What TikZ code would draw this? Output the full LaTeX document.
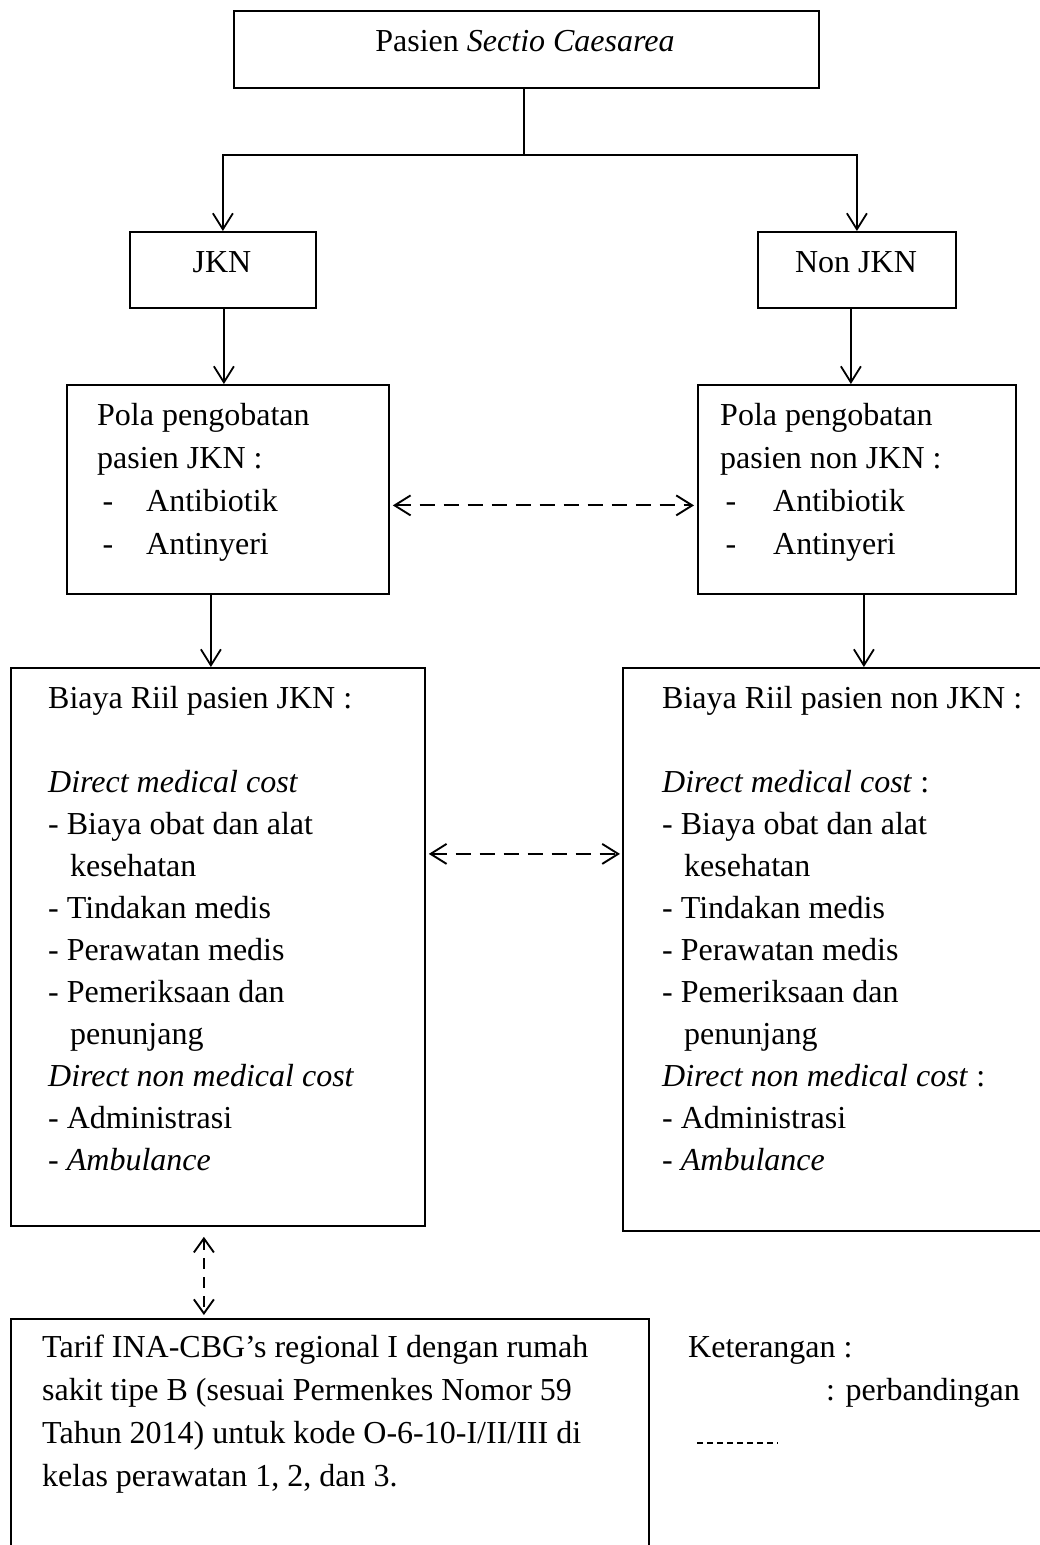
\documentclass[tikz,border=0pt]{standalone}
\usepackage{fontspec}
\setmainfont{Liberation Serif}
\usetikzlibrary{arrows.meta}
\begin{document}
\begin{tikzpicture}[x=1pt,y=-1pt,
  box/.style={draw, line width=1.8pt, rectangle, anchor=north west, inner sep=0pt},
  lbl/.style={inner sep=0pt, font=\fontsize{32}{42}\selectfont},
  para/.style={anchor=north west, inner sep=0pt, align=left, font=\fontsize{32}{42}\selectfont},
  arr/.style={line width=1.8pt, -{Straight Barb[length=16pt,width=20pt]}},
  darr/.style={line width=1.9pt, dash pattern=on 15pt off 9pt, {Straight Barb[length=16pt,width=20pt]}-{Straight Barb[length=16pt,width=20pt]}},
  vdarr/.style={line width=1.9pt, dash pattern=on 11pt off 8pt, {Straight Barb[length=14pt,width=20pt]}-{Straight Barb[length=14pt,width=20pt]}},
  legdash/.style={line width=1.3pt, dash pattern=on 6pt off 4pt},
  ln/.style={line width=1.8pt}
]
\useasboundingbox (0,0) rectangle (1040,1545);

% boxes
\node[box, minimum width=585pt, minimum height=77pt] (top) at (233,10) {};
\node[box, minimum width=186pt, minimum height=76pt] (jkn) at (129,231) {};
\node[box, minimum width=198pt, minimum height=76pt] (nonjkn) at (757,231) {};
\node[box, minimum width=322pt, minimum height=209pt] (polaL) at (66,384) {};
\node[box, minimum width=318pt, minimum height=209pt] (polaR) at (697,384) {};
\node[box, minimum width=414pt, minimum height=558pt] (biayaL) at (10,667) {};
\node[box, minimum width=440pt, minimum height=563pt] (biayaR) at (622,667) {};
\node[box, minimum width=638pt, minimum height=270pt] (tarif) at (10,1318) {};

% texts
\node[lbl, anchor=base] (toptxt) at (525,51) {Pasien \textit{Sectio Caesarea}};
\node[lbl, anchor=base] (jkntxt) at (222,272) {JKN};
\node[lbl, anchor=base] (nonjkntxt) at (856,272) {Non JKN};

\node[para, font=\fontsize{32}{43}\selectfont] (polaLtxt) at (97,395) {\strut Pola pengobatan\\
pasien JKN :\\
\makebox[49pt][l]{\,-}Antibiotik\\
\makebox[49pt][l]{\,-}Antinyeri};
\node[para, font=\fontsize{32}{43}\selectfont] (polaRtxt) at (720,395) {\strut Pola pengobatan\\
pasien non JKN :\\
\makebox[53pt][l]{\,-}Antibiotik\\
\makebox[53pt][l]{\,-}Antinyeri};

\node[para] (biayaLtxt) at (48,678.6) {\strut Biaya Riil pasien JKN :\\[42pt]
\textit{Direct medical cost}\\
- Biaya obat dan alat\\
\hspace*{22pt}kesehatan\\
- Tindakan medis\\
- Perawatan medis\\
- Pemeriksaan dan\\
\hspace*{22pt}penunjang\\
\textit{Direct non medical cost}\\
- Administrasi\\
- \textit{Ambulance}};
\node[para] (biayaRtxt) at (662,678.6) {\strut Biaya Riil pasien non JKN :\\[42pt]
\textit{Direct medical cost} :\\
- Biaya obat dan alat\\
\hspace*{22pt}kesehatan\\
- Tindakan medis\\
- Perawatan medis\\
- Pemeriksaan dan\\
\hspace*{22pt}penunjang\\
\textit{Direct non medical cost} :\\
- Administrasi\\
- \textit{Ambulance}};

\node[para, font=\fontsize{32}{43}\selectfont] (tariftxt) at (42,1327) {\strut Tarif INA-CBG’s regional I dengan rumah\\
sakit tipe B (sesuai Permenkes Nomor 59\\
Tahun 2014) untuk kode O-6-10-I/II/III di\\
kelas perawatan 1, 2, dan 3.};

\node[lbl, anchor=base west] (ket) at (688,1357) {Keterangan :};
\node[lbl, anchor=base east] (perb) at (1020,1400) {: perbandingan};
\coordinate (lg1) at (697,1443);
\coordinate (lg2) at (778,1443);
\draw[legdash] (lg1) -- (lg2);

% connectors
\coordinate (split) at (524,155);
\draw[ln] (top.south -| split) -- (split);
\draw[arr] (split) -| (jkn.north);
\draw[arr] (split) -| (nonjkn.north);
\draw[arr] ([xshift=1pt]jkn.south) -- ([xshift=1pt]jkn.south |- polaL.north);
\draw[arr] ([xshift=-6pt]nonjkn.south) -- ([xshift=-6pt]nonjkn.south |- polaR.north);
\draw[arr] ([xshift=-17pt]polaL.south) -- ([xshift=-17pt]polaL.south |- biayaL.north);
\draw[arr] ([xshift=7pt]polaR.south) -- ([xshift=7pt]polaR.south |- biayaR.north);
\draw[darr, shorten <=3pt, shorten >=3pt] ([yshift=-16pt]polaL.east) -- ([yshift=-16pt]polaL.east -| polaR.west);
\draw[darr, shorten <=3pt, shorten >=2pt] ([yshift=93pt]biayaL.east) -- ([yshift=93pt]biayaL.east -| biayaR.west);
\draw[vdarr, shorten <=10pt, shorten >=3pt] ([xshift=-14pt]biayaL.south) -- ([xshift=-14pt]biayaL.south |- tarif.north);
\end{tikzpicture}
\end{document}
